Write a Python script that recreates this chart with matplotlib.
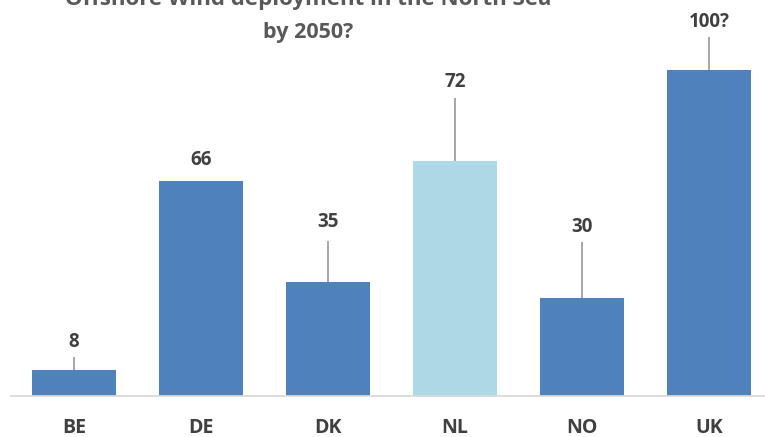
import matplotlib
matplotlib.use("Agg")
import matplotlib.pyplot as plt

# dados
countries = ["BE", "DE", "DK", "NL", "NO", "UK"]
values = [8, 66, 35, 72, 30, 100]
value_labels = ["8", "66", "35", "72", "30", "100?"]
label_y = [16.7, 72.4, 53.5, 96.2, 51.7, 114.7]     # altura do rotulo (unid. do grafico)
leader_top = [11.7, None, 47.2, 91.1, 46.9, 109.8]  # topo da linha de chamada

BLUE = "#4F81BD"
LIGHT = "#ADD8E6"
bar_colors = [LIGHT if c == "NL" else BLUE for c in countries]

W, H = 765, 437
plt.rcParams["font.family"] = ["Open Sans", "DejaVu Sans"]

fig = plt.figure(figsize=(W / 100, H / 100), dpi=100)
ax = fig.add_axes([10.5 / W, 41 / H, 762 / W, 396 / H])

x = range(len(countries))
ax.bar(x, values, width=0.66, color=bar_colors, zorder=2)

for i, (v, lab, ly, lt) in enumerate(zip(values, value_labels, label_y, leader_top)):
    if lt is not None:
        ax.plot([i, i], [v, lt], color="#A6A6A6", linewidth=1.4, zorder=1)
    ax.text(i, ly, lab, ha="center", va="center", fontsize=13.5,
            fontweight="bold", color="#404040")

ax.set_xlim(-0.5, 5.5)
ax.set_ylim(0, 121.5)
ax.set_yticks([])
ax.set_xticks(list(x))
ax.set_xticklabels(countries, fontsize=14, fontweight="bold", color="#404040")
ax.tick_params(axis="x", length=0, pad=16)
for s in ["top", "right", "left"]:
    ax.spines[s].set_visible(False)
ax.spines["bottom"].set_color("#D9D9D9")
ax.spines["bottom"].set_linewidth(1.3)

# titulo (primeira linha cortada no topo, como no original)
fig.text(308 / W, 1 - 5 / H, "Offshore Wind deployment in the North Sea",
         ha="center", va="baseline", fontsize=16, fontweight="bold", color="#595959")
fig.text(308 / W, 1 - 38 / H, "by 2050?",
         ha="center", va="baseline", fontsize=15.5, fontweight="bold", color="#595959")

fig.savefig("out.png", dpi=100)
